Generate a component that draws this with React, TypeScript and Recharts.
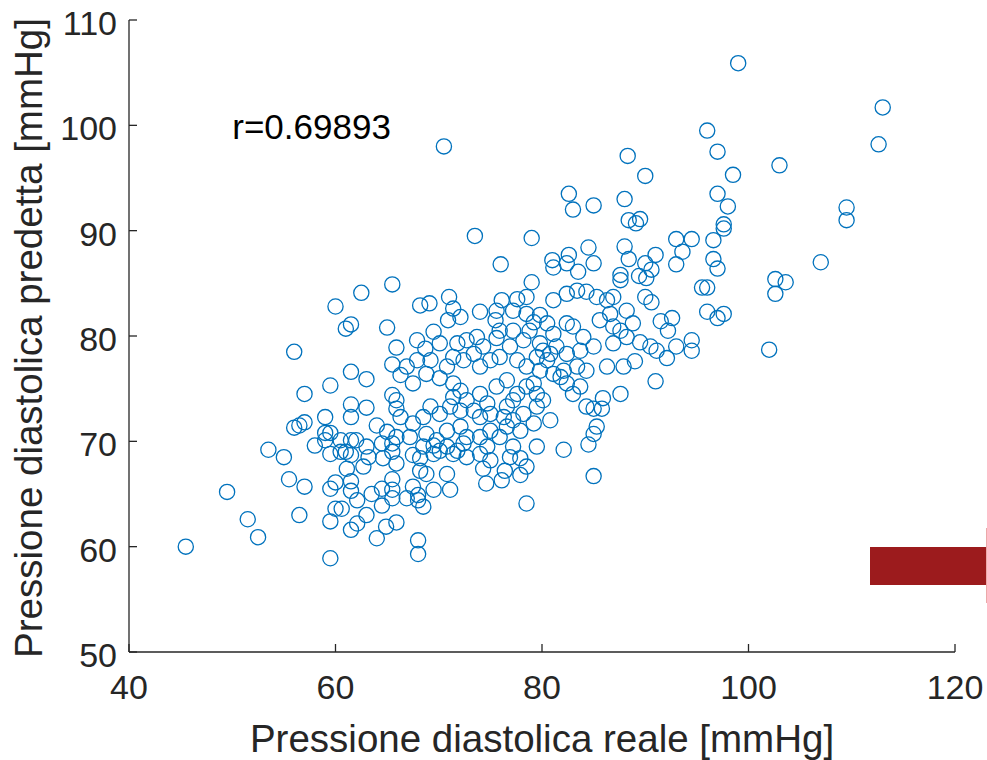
import React from 'react';
import { ScatterChart, Scatter, XAxis, YAxis, ReferenceDot } from 'recharts';

// Pressione diastolica reale [mmHg]
const realPressure: number[] = [
  65.5, 62.5, 60.0, 61.5, 61.0, 65.0, 65.9, 56.0, 65.5, 61.5, 63.0, 59.5, 57.0, 65.5, 65.9, 65.9, 61.5, 63.0, 61.5, 59.0,
  57.0, 56.5, 56.0, 64.0, 65.0, 59.0, 59.5, 59.0, 58.0, 60.5, 61.5, 62.0, 63.0, 64.5, 65.5, 65.5, 53.5, 55.0, 59.5, 61.0,
  61.5, 55.5, 57.0, 49.5, 59.5, 60.0, 61.5, 61.5, 62.1, 63.5, 64.5, 64.5, 65.5, 65.5, 65.5, 60.0, 60.6, 56.5, 51.5, 59.5,
  61.5, 62.1, 63.0, 64.9, 65.9, 64.0, 52.5, 45.5, 59.5, 61.1, 62.7, 63.2, 64.6, 65.9, 60.5, 67.5, 68.2, 68.5, 69.5, 70.1,
  70.8, 71.4, 72.4, 72.7, 74.0, 74.7, 75.0, 74.3, 76.9, 77.9, 78.5, 79.5, 82.1, 84.5, 85.0, 78.5, 76.1, 74.6, 76.4, 77.9,
  68.2, 68.8, 70.8, 71.1, 69.5, 67.5, 66.9, 68.0, 68.0, 68.5, 68.0, 68.0, 76.0, 81.1, 82.4, 83.5, 85.0, 87.6, 87.6, 79.0,
  71.0, 68.2, 69.1, 71.4, 72.1, 70.9, 74.0, 76.1, 77.6, 78.5, 75.6, 77.2, 78.5, 79.8, 81.1, 82.4, 83.4, 84.3, 85.3, 86.3,
  86.9, 88.2, 86.6, 85.6, 86.9, 87.6, 88.2, 86.9, 87.9, 87.6, 85.9, 85.0, 84.3, 85.3, 85.0, 67.9, 68.7, 69.5, 70.1, 71.8,
  72.7, 73.7, 73.4, 74.3, 75.6, 75.9, 75.5, 77.2, 76.9, 78.2, 78.8, 79.2, 80.5, 81.1, 82.4, 83.0, 84.0, 85.0, 83.7, 79.8,
  80.1, 80.8, 79.5, 80.5, 81.4, 82.4, 82.1, 83.4, 84.3, 86.3, 82.4, 83.7, 83.0, 81.8, 81.1, 79.8, 78.5, 77.6, 75.9, 75.0,
  74.0, 72.4, 71.4, 70.8, 69.2, 67.9, 66.9, 66.3, 67.5, 68.8, 70.1, 71.4, 72.1, 71.4, 72.7, 74.0, 74.7, 75.6, 76.6, 77.6,
  77.2, 76.6, 78.5, 79.2, 79.5, 80.1, 79.5, 78.2, 77.2, 76.3, 75.0, 74.0, 73.4, 72.1, 71.1, 70.1, 69.2, 68.5, 67.5, 66.3,
  65.9, 67.2, 68.8, 69.8, 70.8, 72.1, 72.7, 74.0, 75.0, 75.9, 76.6, 77.9, 79.2, 80.8, 77.2, 71.8, 69.5, 70.5, 73.5, 79.0,
  82.6, 83.0, 85.0, 84.5, 81.0, 82.6, 88.0, 88.3, 88.0, 88.4, 88.4, 90.0, 98.5, 97.0, 103.0, 109.5, 109.5, 89.5, 89.1, 97.0,
  98.0, 97.6, 97.6, 96.6, 96.6, 97.0, 93.0, 94.5, 93.6, 93.0, 91.0, 90.0, 90.6, 89.4, 90.1, 107.0, 102.6, 103.6, 102.6, 95.5,
  96.0, 96.0, 97.0, 97.6, 90.0, 90.6, 88.8, 91.5, 92.6, 92.2, 89.5, 90.5, 91.1, 93.0, 94.5, 94.5, 92.1, 89.0, 91.0, 102.0,
  99.0, 113.0, 112.6, 96.0, 85.8,
];

// Pressione diastolica predetta [mmHg]
const predictedPressure: number[] = [
  84.9, 84.1, 82.8, 81.1, 80.7, 80.8, 78.9, 78.5, 77.3, 76.6, 75.9, 75.3, 74.5, 74.4, 73.9, 73.1, 73.5, 73.2, 72.3, 72.3,
  71.8, 71.5, 71.3, 71.5, 70.9, 70.8, 70.8, 70.1, 69.6, 70.1, 70.1, 70.1, 69.5, 69.8, 69.8, 69.0, 69.2, 68.5, 68.8, 69.0,
  68.7, 66.4, 65.7, 65.2, 65.5, 66.1, 66.2, 65.3, 64.4, 65.0, 65.5, 63.9, 66.4, 65.4, 64.6, 63.6, 63.6, 63.0, 62.6, 62.4,
  61.6, 62.2, 63.0, 61.9, 62.3, 60.8, 60.9, 60.0, 58.9, 67.4, 67.6, 68.5, 68.4, 67.9, 69.0, 68.7, 68.4, 69.5, 69.6, 69.1,
  69.5, 68.8, 69.8, 68.5, 68.8, 69.5, 68.2, 67.4, 68.5, 68.4, 67.6, 69.5, 69.2, 69.7, 66.7, 64.1, 66.3, 66.0, 67.2, 66.8,
  67.2, 66.9, 66.9, 65.4, 65.4, 65.7, 64.6, 64.9, 64.4, 63.8, 60.6, 59.3, 86.8, 86.5, 86.9, 86.1, 86.9, 85.8, 85.3, 85.1,
  83.7, 82.9, 83.1, 82.6, 81.8, 81.5, 82.3, 83.4, 83.5, 83.7, 82.4, 82.4, 82.1, 82.0, 83.4, 84.0, 84.3, 84.2, 83.7, 83.4,
  83.7, 82.4, 82.1, 81.5, 80.9, 80.5, 79.9, 79.3, 77.1, 74.5, 74.1, 73.1, 73.3, 71.4, 70.7, 79.6, 78.8, 80.4, 79.3, 79.3,
  79.6, 79.9, 78.3, 79.0, 79.8, 80.5, 81.5, 80.5, 79.0, 79.6, 80.5, 81.3, 81.2, 80.2, 81.2, 80.9, 79.9, 79.0, 78.6, 79.3,
  78.6, 78.3, 78.0, 77.7, 79.0, 78.3, 76.7, 77.1, 76.7, 77.1, 75.5, 75.2, 74.5, 76.1, 76.4, 76.7, 77.1, 77.7, 78.0, 77.7,
  77.1, 77.7, 78.0, 77.1, 77.7, 77.7, 77.1, 76.3, 75.5, 76.4, 76.0, 75.5, 74.8, 74.2, 73.9, 74.5, 73.6, 75.2, 75.8, 74.5,
  73.9, 73.3, 75.2, 75.5, 74.5, 73.9, 73.3, 72.6, 72.0, 72.3, 72.6, 72.3, 72.9, 72.9, 73.3, 72.6, 73.3, 72.3, 71.7, 72.3,
  70.4, 70.4, 70.7, 70.1, 71.0, 71.4, 70.4, 70.4, 71.0, 70.4, 71.4, 71.0, 71.7, 72.0, 69.5, 69.1, 68.8, 98.0, 89.5, 89.3,
  93.5, 92.0, 92.4, 88.4, 87.2, 87.7, 93.0, 97.1, 88.5, 91.0, 87.3, 95.2, 95.3, 97.5, 96.2, 92.2, 91.0, 91.1, 90.7, 93.5,
  92.3, 90.6, 90.2, 89.1, 87.3, 86.4, 89.2, 89.2, 88.0, 86.8, 87.7, 86.9, 86.3, 85.7, 85.5, 87.0, 85.4, 85.1, 84.0, 84.6,
  84.6, 82.3, 81.7, 82.1, 83.7, 83.2, 81.2, 81.4, 81.7, 80.5, 79.4, 79.0, 78.6, 79.0, 79.6, 78.6, 77.9, 77.6, 75.7, 78.7,
  105.9, 101.7, 98.2, 99.5, 73.1,
];

const xTicks: number[] = [40, 60, 80, 100, 120];
const yTicks: number[] = [50, 60, 70, 80, 90, 100, 110];
const xTitle = 'Pressione diastolica reale [mmHg]';
const yTitle = 'Pressione diastolica predetta [mmHg]';
const corrText = 'r=0.69893';
const corrPos = { x: 50, y: 100 };

const data = realPressure.map((x, i) => ({ x, y: predictedPressure[i] }));

const FONT = '"Liberation Sans", Arial, Helvetica, sans-serif';
const AXIS = '#262626';
const BLUE = '#0072BD';

const Ring = (props: any) => {
  const { cx, cy } = props;
  if (cx == null || cy == null) return null;
  return <circle cx={cx} cy={cy} r={7.6} fill="none" stroke={BLUE} strokeWidth={1.3} />;
};

const XTitle = (props: any) => {
  const vb = props.viewBox || {};
  return (
    <text x={vb.x + vb.width / 2} y={vb.y + 100} textAnchor="middle" fontSize={38.5} fill={AXIS} fontFamily={FONT}>
      {xTitle}
    </text>
  );
};

const YTitle = (props: any) => {
  const vb = props.viewBox || {};
  const x = vb.x + 42;
  const y = vb.y + vb.height / 2 + 2;
  return (
    <text x={x} y={y} transform={`rotate(-90, ${x}, ${y})`} textAnchor="middle" fontSize={38.5} fill={AXIS} fontFamily={FONT}>
      {yTitle}
    </text>
  );
};

const CorrLabel = (props: any) => {
  const vb = props.viewBox || {};
  return (
    <text x={vb.x} y={vb.y + 14} textAnchor="start" fontSize={35} fill="#000" fontFamily={FONT}>
      {corrText}
    </text>
  );
};

export default function App() {
  const tickStyle = { fontSize: 34, fill: AXIS, fontFamily: FONT };
  return (
    <div style={{ position: 'absolute', left: 0, top: 0, width: 987, height: 760, background: '#fff', overflow: 'hidden' }}>
      <ScatterChart width={987} height={760} margin={{ top: 20, right: 32, bottom: 0, left: 0 }}>
        <XAxis
          xAxisId={0}
          type="number"
          dataKey="x"
          domain={[40, 120]}
          ticks={xTicks}
          interval={0}
          allowDataOverflow
          height={108}
          tickSize={-8}
          tickMargin={31}
          stroke={AXIS}
          axisLine={{ stroke: AXIS, strokeWidth: 1.3 }}
          tickLine={{ stroke: AXIS, strokeWidth: 1.3 }}
          tick={tickStyle}
          label={<XTitle />}
        />
        <XAxis
          xAxisId="top"
          orientation="top"
          type="number"
          domain={[40, 120]}
          ticks={xTicks}
          interval={0}
          allowDataOverflow
          height={0}
          tickSize={-8}
          axisLine={{ stroke: AXIS, strokeWidth: 1.3 }}
          tickLine={{ stroke: AXIS, strokeWidth: 1.3 }}
          tick={false}
        />
        <YAxis
          yAxisId={0}
          type="number"
          dataKey="y"
          domain={[50, 110]}
          ticks={yTicks}
          interval={0}
          allowDataOverflow
          width={129}
          tickSize={-8}
          tickMargin={20}
          axisLine={{ stroke: AXIS, strokeWidth: 1.3 }}
          tickLine={{ stroke: AXIS, strokeWidth: 1.3 }}
          tick={{ ...tickStyle, dy: 3 }}
          label={<YTitle />}
        />
        <YAxis
          yAxisId="right"
          orientation="right"
          type="number"
          domain={[50, 110]}
          ticks={yTicks}
          interval={0}
          allowDataOverflow
          width={0}
          tickSize={-8}
          axisLine={{ stroke: AXIS, strokeWidth: 1.3 }}
          tickLine={{ stroke: AXIS, strokeWidth: 1.3 }}
          tick={false}
        />
        <Scatter data={data} xAxisId={0} yAxisId={0} shape={<Ring />} isAnimationActive={false} />
        <ReferenceDot
          xAxisId={0}
          yAxisId={0}
          x={corrPos.x}
          y={corrPos.y}
          r={0}
          stroke="none"
          fill="none"
          label={<CorrLabel />}
        />
      </ScatterChart>
      <div style={{ position: 'absolute', left: 870, top: 547, width: 117, height: 38, background: '#9C1B1D' }} />
      <div style={{ position: 'absolute', left: 986, top: 528, width: 1, height: 75, background: '#EBA9A9' }} />
    </div>
  );
}
